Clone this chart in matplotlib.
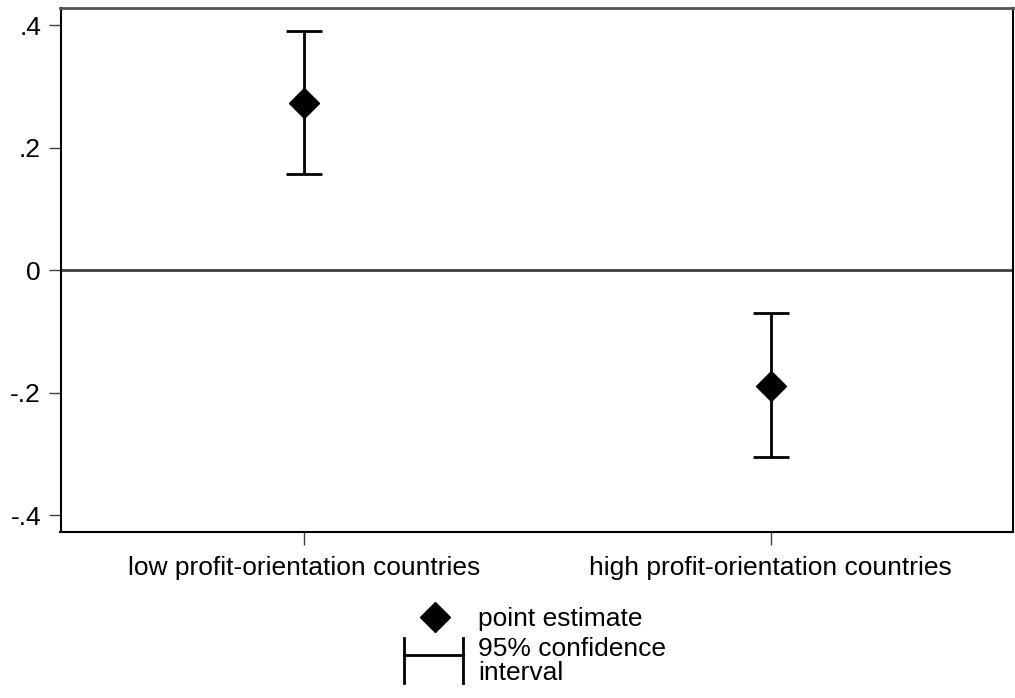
import matplotlib.pyplot as plt
from matplotlib.lines import Line2D

plt.rcParams['font.family'] = ['Liberation Sans', 'DejaVu Sans']

groups = ["low profit-orientation countries", "high profit-orientation countries"]
estimates = [0.273, -0.188]
ci_low = [0.157, -0.304]
ci_high = [0.391, -0.070]

pos = [1, 2]
err = [[e - lo for e, lo in zip(estimates, ci_low)],
       [hi - e for e, hi in zip(estimates, ci_high)]]

fig = plt.figure(figsize=(10.15, 6.98), dpi=100)
ax = fig.add_axes([60.5 / 1015, 1 - 532 / 698, 952.5 / 1015, 524 / 698])

ax.axhline(0, color='#404040', lw=2, zorder=1)
ax.errorbar(pos, estimates, yerr=err, fmt='none', ecolor='black',
            elinewidth=2, capsize=13.3, capthick=2, zorder=2)
ax.plot(pos, estimates, 'D', color='black', ms=15, zorder=3)

ax.set_xlim(0.478, 2.519)
ax.set_ylim(-0.427, 0.428)
ax.set_xticks(pos)
ax.set_xticklabels(groups, fontsize=19)
ax.set_yticks([-0.4, -0.2, 0, 0.2, 0.4])
ax.set_yticklabels(['-.4', '-.2', '0', '.2', '.4'], fontsize=19)
ax.tick_params(length=9, width=1, color='#404040')
ax.tick_params(axis='y', pad=5)
ax.tick_params(axis='x', pad=8)

for side in ['left', 'bottom', 'right']:
    ax.spines[side].set_color('black')
    ax.spines[side].set_linewidth(1.5)
ax.spines['top'].set_color('#555555')
ax.spines['top'].set_linewidth(2)

# legend below axes, drawn by hand
fig.add_artist(Line2D([435 / 1015], [1 - 617 / 698], marker='D', color='black', ms=15))
fig.text(478 / 1015, 1 - 619 / 698, 'point estimate', fontsize=19, va='center')
fig.add_artist(Line2D([404 / 1015, 404 / 1015], [1 - 638 / 698, 1 - 683 / 698], color='black', lw=2))
fig.add_artist(Line2D([463 / 1015, 463 / 1015], [1 - 638 / 698, 1 - 683 / 698], color='black', lw=2))
fig.add_artist(Line2D([404 / 1015, 463 / 1015], [1 - 655 / 698, 1 - 655 / 698], color='black', lw=2))
fig.text(478 / 1015, 1 - 661 / 698, '95% confidence\ninterval', fontsize=19, va='center',
         linespacing=1.05)

fig.savefig('out.png', dpi=100)
